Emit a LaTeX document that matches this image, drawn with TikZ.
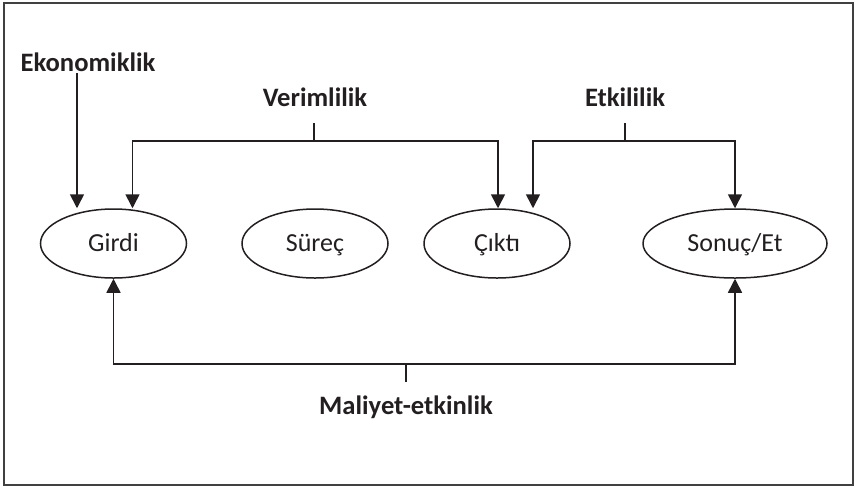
\documentclass[tikz,border=0pt]{standalone}
\usepackage{fontspec}
\setmainfont{Carlito}
\usetikzlibrary{shapes.geometric,arrows.meta}
\definecolor{ink}{HTML}{231F20}
\definecolor{frame}{HTML}{404040}
\tikzset{
  oval/.style={ellipse,draw=ink,line width=0.75pt,inner sep=0pt,minimum width=73pt,minimum height=34.5pt,
    font=\fontsize{13}{15}\selectfont,text=ink,text height=8.4pt,text depth=0pt},
  lbl/.style={font=\bfseries\fontsize{13.3}{15}\selectfont,text=ink,inner sep=0pt,anchor=base},
  conn/.style={draw=ink,line width=0.8pt},
  arr/.style={conn,-{Triangle[width=7pt,length=7pt]}}
}
\begin{document}
\begin{tikzpicture}[x=0.5pt,y=-0.5pt]
\useasboundingbox (0,0) rectangle (856,489);
\draw[frame,line width=1pt] (4,3) rectangle (853,485);
% ellipses
\node[oval] (girdi) at (113.5,243.5) {Girdi};
\node[oval] (surec) at (315,243.5) {Süreç};
\node[oval] (cikti) at (497,243.5) {Çıktı};
\node[oval,minimum width=92pt] (sonuc) at (735,243.5) {Sonuç/Et};
% labels
\node[lbl] (eko) at (88,71) {Ekonomiklik};
\node[lbl] (verim) at (315,106) {Verimlilik};
\node[lbl] (etki) at (625,106) {Etkililik};
\node[lbl] (maliyet) at (406,414) {Maliyet-etkinlik};
% Ekonomiklik
\coordinate (ekoS) at (77,73);
\draw[arr] (ekoS) -- (ekoS |- girdi.north);
% Verimlilik
\coordinate (vtop) at (314,123);
\coordinate (vbar) at (314,141);
\draw[conn] (vtop) -- (vbar);
\draw[arr] (vbar) -| ([xshift=9.5pt]girdi.north);
\draw[arr] (vbar) -| ([xshift=0.5pt]cikti.north);
% Etkililik
\coordinate (etop) at (625,123);
\coordinate (ebar) at (625,141);
\draw[conn] (etop) -- (ebar);
\draw[arr] (ebar) -| ([xshift=18pt]cikti.north);
\draw[arr] (ebar) -| (sonuc.north);
% Maliyet-etkinlik
\coordinate (mbot) at (406,382);
\coordinate (mbar) at (406,364);
\draw[conn] (mbot) -- (mbar);
\draw[arr] (mbar) -| (girdi.south);
\draw[arr] (mbar) -| (sonuc.south);
\end{tikzpicture}
\end{document}
